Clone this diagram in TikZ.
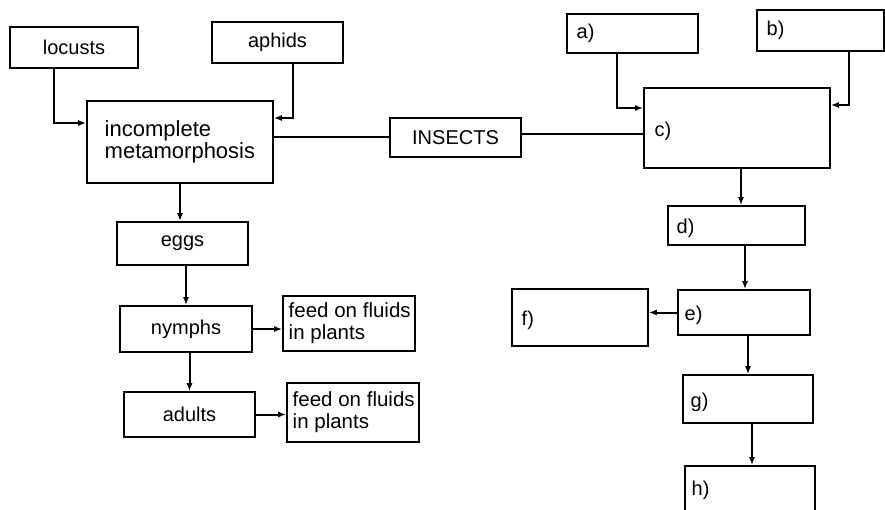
\documentclass[tikz,border=0pt]{standalone}
\usepackage{fontspec}
\setmainfont{Liberation Sans}
\usetikzlibrary{arrows.meta}
\begin{document}
\begin{tikzpicture}[x=1pt,y=-1pt,
  font=\fontsize{20}{22}\selectfont,
  box/.style={draw, line width=1.6pt, inner sep=0pt},
  conn/.style={line width=2pt},
  arr/.style={line width=2pt, -{Latex[length=8pt,width=6pt]}},
  lbl/.style={anchor=west, align=left}]
\clip (0,0) rectangle (885,510);
\fill[white] (0,0) rectangle (885,510);
% left side
\node[box, minimum width=128pt, minimum height=41pt] (locusts) at (74,47.5) {locusts};
\node[box, minimum width=131pt, minimum height=41pt] (aphids) at (277.5,42.5) {aphids};
\node[box, minimum width=186pt, minimum height=82pt,
  label={[lbl,xshift=15pt,font=\fontsize{22}{22}\selectfont]west:{incomplete\\metamorphosis}}] (incm) at (180,142) {};
\node[box, minimum width=131pt, minimum height=39pt] (insects) at (455.5,137.5) {INSECTS};
\node[box, minimum width=131pt, minimum height=43pt] (eggs) at (182.5,243.5) {eggs};
\node[box, minimum width=132pt, minimum height=46pt] (nymphs) at (186,329) {nymphs};
\node[box, minimum width=132pt, minimum height=55pt,
  label={[lbl,xshift=3pt,font=\fontsize{20.5}{22}\selectfont]west:{feed on fluids\\in plants}}] (feed1) at (349,323.5) {};
\node[box, minimum width=131pt, minimum height=45pt] (adults) at (189.5,414.5) {adults};
\node[box, minimum width=132pt, minimum height=59pt,
  label={[lbl,xshift=3pt,font=\fontsize{20.5}{22}\selectfont]west:{feed on fluids\\in plants}}] (feed2) at (353,412.5) {};
% right side
\node[box, minimum width=131pt, minimum height=39pt, label={[lbl,xshift=7pt]west:a)}] (a) at (632.5,33.5) {};
\node[box, minimum width=127pt, minimum height=41pt, label={[lbl,xshift=7pt]west:b)}] (b) at (820.5,30.5) {};
\node[box, minimum width=186pt, minimum height=80pt, label={[lbl,xshift=8pt,yshift=-3pt]west:c)}] (c) at (737,128) {};
\node[box, minimum width=137pt, minimum height=39pt, label={[lbl,xshift=6pt,yshift=-3pt]west:d)}] (d) at (736.5,225.5) {};
\node[box, minimum width=132pt, minimum height=45pt, label={[lbl,xshift=4pt,yshift=-3pt]west:e)}] (e) at (744,312.5) {};
\node[box, minimum width=136pt, minimum height=57pt, label={[lbl,xshift=7pt,yshift=-3pt]west:f)}] (f) at (580,317.5) {};
\node[box, minimum width=130pt, minimum height=48pt, label={[lbl,xshift=5pt,yshift=-3pt]west:g)}] (g) at (748,399) {};
\node[box, minimum width=130pt, minimum height=52pt, label={[lbl,xshift=4pt,yshift=2pt]west:h)}] (h) at (750,492) {};
% connectors left
\draw[arr] ([xshift=-20pt]locusts.south) |- ([yshift=19pt]incm.west);
\draw[arr] ([xshift=15.5pt]aphids.south) |- ([yshift=24pt]incm.east);
\draw[conn] (insects.west -| incm.east) -- (insects.west);
\draw[arr] (incm.south) -- (incm.south |- eggs.north);
\draw[arr] (nymphs.north |- eggs.south) -- (nymphs.north);
\draw[arr] (nymphs.east) -- (nymphs.east -| feed1.west);
\draw[arr] (adults.north |- nymphs.south) -- (adults.north);
\draw[arr] (adults.east) -- (adults.east -| feed2.west);
% connectors right
\draw[conn] ([yshift=3pt]insects.east) -- ([yshift=3pt]insects.east -| c.west);
\draw[arr] ([xshift=-15.5pt]a.south) |- ([yshift=20pt]c.west);
\draw[arr] ([xshift=28.5pt]b.south) |- ([yshift=23pt]c.east);
\draw[arr] ([xshift=4pt]c.south) -- ([xshift=4pt]c.south |- d.north);
\draw[arr] ([xshift=8.5pt]d.south) -- ([xshift=8.5pt]d.south |- e.north);
\draw[arr] (e.west) -- (e.west -| f.east);
\draw[arr] ([xshift=4pt]e.south) -- ([xshift=4pt]e.south |- g.north);
\draw[arr] ([xshift=4pt]g.south) -- ([xshift=4pt]g.south |- h.north);
\end{tikzpicture}
\end{document}
